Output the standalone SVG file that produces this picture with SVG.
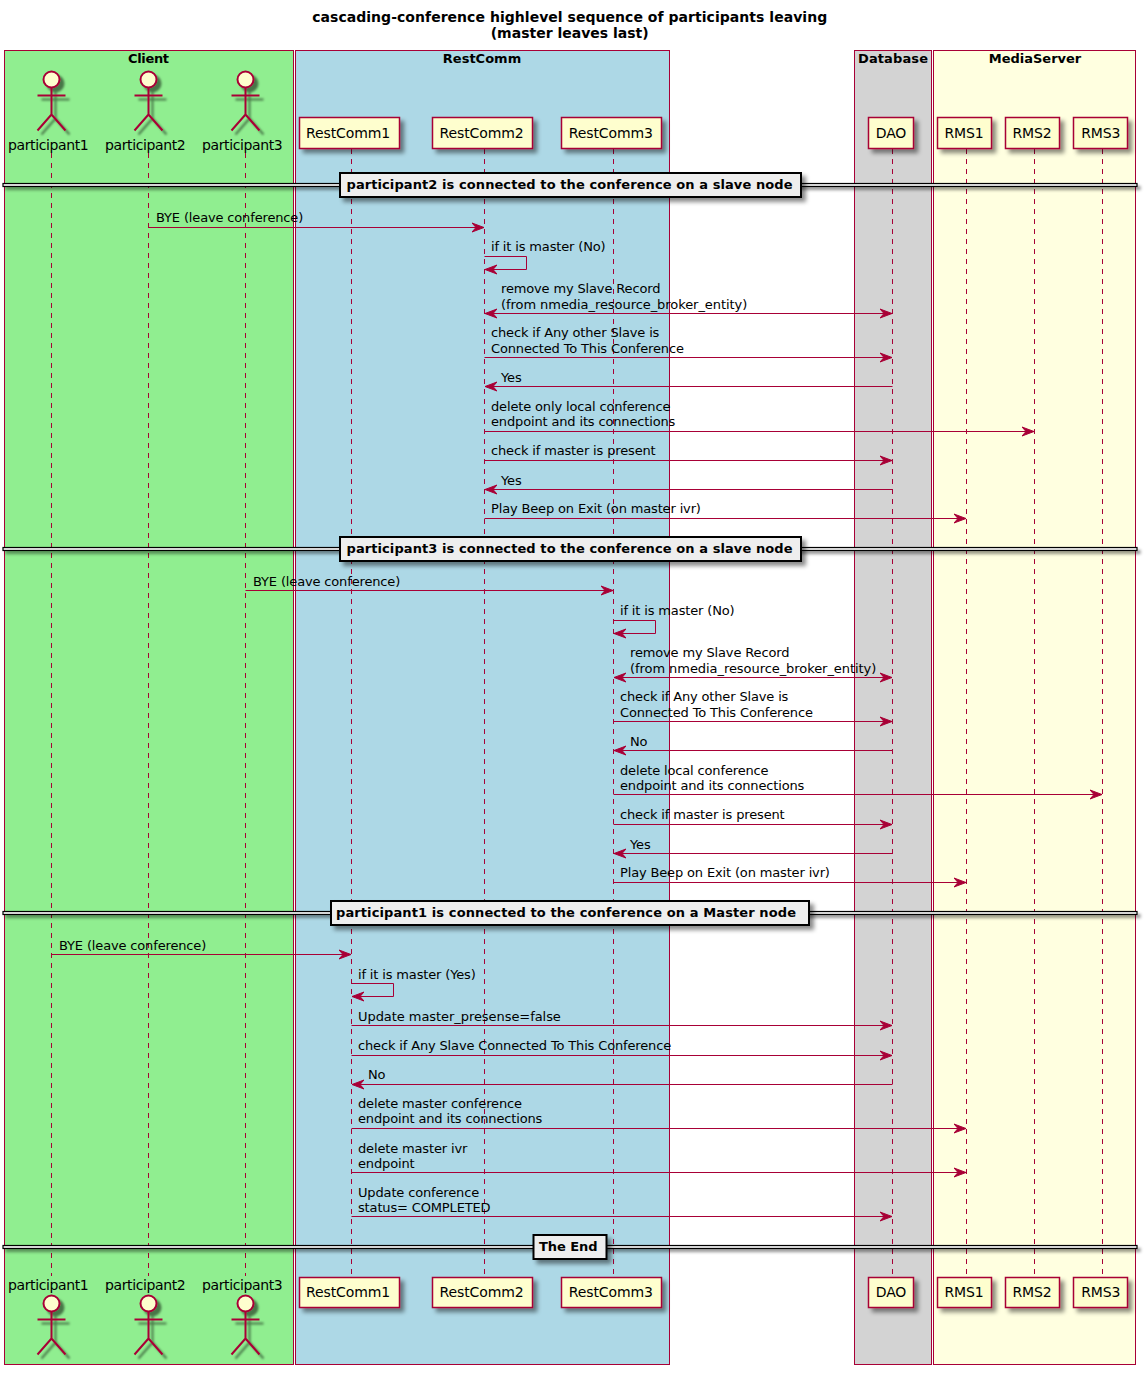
<svg xmlns="http://www.w3.org/2000/svg" width="1147" height="1375" viewBox="0 0 1147 1375">
<style>
text{font-family:"DejaVu Sans",sans-serif;font-size:13px;fill:#000;letter-spacing:-0.15px}
.t{font-weight:bold;letter-spacing:0}
.c{text-anchor:middle}
.h{font-size:14px}
.u{letter-spacing:-0.06px}
.p{font-size:14px;letter-spacing:-0.38px}
.pc{font-size:14px;text-anchor:middle;letter-spacing:-0.1px}
.sb{stroke:#A80036;stroke-width:1}
.part{fill:#FEFECE;stroke:#A80036;stroke-width:1.5;filter:url(#sh)}
.actor{fill:none;stroke:#A80036;stroke-width:2;filter:url(#sa)}
.actor circle{fill:#FEFECE}
.life{stroke:#A80036;stroke-width:1;stroke-dasharray:5,5;fill:none}
.m{stroke:#A80036;stroke-width:1;fill:none}
.sepl{stroke:#000;stroke-width:1.2;fill:#EEEEEE;filter:url(#sl)}
.sepb{fill:#EEEEEE;stroke:#000;stroke-width:2;filter:url(#sh)}
</style>
<defs>
<filter id="sh" x="-30%" y="-30%" width="170%" height="170%"><feDropShadow dx="4" dy="4" stdDeviation="2" flood-color="#000" flood-opacity="0.45"/></filter>
<filter id="sa" x="-30%" y="-30%" width="170%" height="170%"><feDropShadow dx="4" dy="4" stdDeviation="1.2" flood-color="#000" flood-opacity="0.5"/></filter>
<filter id="sl" filterUnits="userSpaceOnUse" x="0" y="0" width="1147" height="1375"><feDropShadow dx="3" dy="3" stdDeviation="1.5" flood-color="#000" flood-opacity="0.4"/></filter>
<marker id="ah" markerUnits="userSpaceOnUse" markerWidth="13" markerHeight="12" refX="12" refY="6" orient="auto-start-reverse"><path d="M12,6 L0,1.500 L4,6 L0,10.500 Z" fill="#A80036" stroke="#A80036"/></marker>
</defs>
<text class="t c h" x="569.700" y="22" textLength="515">cascading-conference highlevel sequence of participants leaving</text>
<text class="t c h" x="569.700" y="38">(master leaves last)</text>
<g id="box-client"><rect class="sb" x="4.500" y="50.500" width="289" height="1314" fill="#90EE90"/><text class="t c" x="148.500" y="63" textLength="41">Client</text></g>
<g id="box-restcomm"><rect class="sb" x="295.500" y="50.500" width="374" height="1314" fill="#ADD8E6"/><text class="t c" x="482" y="63">RestComm</text></g>
<g id="box-database"><rect class="sb" x="854.500" y="50.500" width="77" height="1314" fill="#D3D3D3"/><text class="t c" x="893" y="63" textLength="70">Database</text></g>
<g id="box-mediaserver"><rect class="sb" x="933.500" y="50.500" width="202" height="1314" fill="#FFFFE0"/><text class="t c" x="1035" y="63">MediaServer</text></g>
<g id="lifelines">
<path class="life" d="M51.500 153V1276M148.500 153V1276M245.500 153V1276M351.500 149V1277M484.500 149V1277M613.500 149V1277M892.500 149V1277M966.500 149V1277M1034.500 149V1277M1102.500 149V1277"/>
</g>
<g id="connectors">
<path class="m" marker-end="url(#ah)" d="M148.500 227.500H484"/>
<path class="m" marker-end="url(#ah)" d="M484.500 256.500H526.500V269.500H485"/>
<path class="m" marker-start="url(#ah)" marker-end="url(#ah)" d="M485 313.500H892"/>
<path class="m" marker-end="url(#ah)" d="M484.500 357.500H892"/>
<path class="m" marker-end="url(#ah)" d="M892.500 386.500H485"/>
<path class="m" marker-end="url(#ah)" d="M484.500 431.500H1034"/>
<path class="m" marker-end="url(#ah)" d="M484.500 460.500H892"/>
<path class="m" marker-end="url(#ah)" d="M892.500 489.500H485"/>
<path class="m" marker-end="url(#ah)" d="M484.500 518.500H966"/>
<path class="m" marker-end="url(#ah)" d="M245.500 590.500H613"/>
<path class="m" marker-end="url(#ah)" d="M613.500 620.500H655.500V633.500H614"/>
<path class="m" marker-start="url(#ah)" marker-end="url(#ah)" d="M614 677.500H892"/>
<path class="m" marker-end="url(#ah)" d="M613.500 721.500H892"/>
<path class="m" marker-end="url(#ah)" d="M892.500 750.500H614"/>
<path class="m" marker-end="url(#ah)" d="M613.500 794.500H1102"/>
<path class="m" marker-end="url(#ah)" d="M613.500 824.500H892"/>
<path class="m" marker-end="url(#ah)" d="M892.500 853.500H614"/>
<path class="m" marker-end="url(#ah)" d="M613.500 882.500H966"/>
<path class="m" marker-end="url(#ah)" d="M51.500 954.500H351"/>
<path class="m" marker-end="url(#ah)" d="M351.500 983.500H393.500V996.500H352"/>
<path class="m" marker-end="url(#ah)" d="M351.500 1025.500H892"/>
<path class="m" marker-end="url(#ah)" d="M351.500 1055.500H892"/>
<path class="m" marker-end="url(#ah)" d="M892.500 1084.500H352"/>
<path class="m" marker-end="url(#ah)" d="M351.500 1128.500H966"/>
<path class="m" marker-end="url(#ah)" d="M351.500 1172.500H966"/>
<path class="m" marker-end="url(#ah)" d="M351.500 1216.500H892"/>
</g>
<g id="labels">
<text x="156" y="222">BYE (leave conference)</text>
<text x="491" y="251">if it is master (No)</text>
<text x="501" y="293">remove my Slave Record</text><text class="u" x="501" y="309">(from nmedia_resource_broker_entity)</text>
<text x="491" y="337">check if Any other Slave is</text><text x="491" y="353">Connected To This Conference</text>
<text x="501" y="382">Yes</text>
<text x="491" y="411">delete only local conference</text><text x="491" y="426">endpoint and its connections</text>
<text x="491" y="455">check if master is present</text>
<text x="501" y="485">Yes</text>
<text x="491" y="513">Play Beep on Exit (on master ivr)</text>
<text x="253" y="586">BYE (leave conference)</text>
<text x="620" y="615">if it is master (No)</text>
<text x="630" y="657">remove my Slave Record</text><text class="u" x="630" y="673">(from nmedia_resource_broker_entity)</text>
<text x="620" y="701">check if Any other Slave is</text><text x="620" y="717">Connected To This Conference</text>
<text x="630" y="746">No</text>
<text x="620" y="775">delete local conference</text><text x="620" y="790">endpoint and its connections</text>
<text x="620" y="819">check if master is present</text>
<text x="630" y="849">Yes</text>
<text x="620" y="877">Play Beep on Exit (on master ivr)</text>
<text x="59" y="950">BYE (leave conference)</text>
<text x="358" y="979">if it is master (Yes)</text>
<text class="u" x="358" y="1021">Update master_presense=false</text>
<text x="358" y="1050">check if Any Slave Connected To This Conference</text>
<text x="368" y="1079">No</text>
<text x="358" y="1108">delete master conference</text><text x="358" y="1123">endpoint and its connections</text>
<text x="358" y="1153">delete master ivr</text><text x="358" y="1168">endpoint</text>
<text x="358" y="1197">Update conference</text><text x="358" y="1212">status= COMPLETED</text>
</g>
<g id="sep1"><rect class="sepl" x="3" y="183.500" width="1134" height="3"/><rect class="sepb" x="340" y="173" width="461" height="24"/><text class="t" x="346.500" y="189" textLength="446">participant2 is connected to the conference on a slave node</text></g>
<g id="sep2"><rect class="sepl" x="3" y="547.500" width="1134" height="3"/><rect class="sepb" x="340" y="537" width="461" height="24"/><text class="t" x="346.500" y="553" textLength="446">participant3 is connected to the conference on a slave node</text></g>
<g id="sep3"><rect class="sepl" x="3" y="911.500" width="1134" height="3"/><rect class="sepb" x="331" y="901" width="478" height="24"/><text class="t" x="336" y="917" textLength="460">participant1 is connected to the conference on a Master node</text></g>
<g id="sep4"><rect class="sepl" x="3" y="1245.500" width="1134" height="3"/><rect class="sepb" x="533.500" y="1235" width="73" height="24"/><text class="t" x="539" y="1251" textLength="58.500">The End</text></g>
<g id="p1-top"><g class="actor"><circle cx="51.500" cy="79.500" r="8"/><path d="M51.500 87.500V114.500M37.500 95.500H65.500M51.500 114.500L37.500 130.500M51.500 114.500L65.500 130.500"/></g><text class="p" x="8" y="150">participant1</text></g>
<g id="p2-top"><g class="actor"><circle cx="148.500" cy="79.500" r="8"/><path d="M148.500 87.500V114.500M134.500 95.500H162.500M148.500 114.500L134.500 130.500M148.500 114.500L162.500 130.500"/></g><text class="p" x="105" y="150">participant2</text></g>
<g id="p3-top"><g class="actor"><circle cx="245.500" cy="79.500" r="8"/><path d="M245.500 87.500V114.500M231.500 95.500H259.500M245.500 114.500L231.500 130.500M245.500 114.500L259.500 130.500"/></g><text class="p" x="202" y="150">participant3</text></g>
<g id="rc1-top"><rect class="part" x="299.500" y="117.500" width="100" height="31"/><text class="pc" x="348" y="138">RestComm1</text></g>
<g id="rc2-top"><rect class="part" x="432.500" y="117.500" width="100" height="31"/><text class="pc" x="481.500" y="138">RestComm2</text></g>
<g id="rc3-top"><rect class="part" x="561.500" y="117.500" width="100" height="31"/><text class="pc" x="610.800" y="138">RestComm3</text></g>
<g id="dao-top"><rect class="part" x="868.500" y="117.500" width="45" height="31"/><text class="pc" x="891" y="138">DAO</text></g>
<g id="rms1-top"><rect class="part" x="937.500" y="117.500" width="54" height="31"/><text class="pc" x="964" y="138">RMS1</text></g>
<g id="rms2-top"><rect class="part" x="1005.500" y="117.500" width="54" height="31"/><text class="pc" x="1032" y="138">RMS2</text></g>
<g id="rms3-top"><rect class="part" x="1073.500" y="117.500" width="54" height="31"/><text class="pc" x="1100.800" y="138">RMS3</text></g>
<g id="p1-bottom"><g class="actor"><circle cx="51.500" cy="1303.500" r="8"/><path d="M51.500 1311.500V1338.500M37.500 1319.500H65.500M51.500 1338.500L37.500 1354.500M51.500 1338.500L65.500 1354.500"/></g><text class="p" x="8" y="1290">participant1</text></g>
<g id="p2-bottom"><g class="actor"><circle cx="148.500" cy="1303.500" r="8"/><path d="M148.500 1311.500V1338.500M134.500 1319.500H162.500M148.500 1338.500L134.500 1354.500M148.500 1338.500L162.500 1354.500"/></g><text class="p" x="105" y="1290">participant2</text></g>
<g id="p3-bottom"><g class="actor"><circle cx="245.500" cy="1303.500" r="8"/><path d="M245.500 1311.500V1338.500M231.500 1319.500H259.500M245.500 1338.500L231.500 1354.500M245.500 1338.500L259.500 1354.500"/></g><text class="p" x="202" y="1290">participant3</text></g>
<g id="rc1-bottom"><rect class="part" x="299.500" y="1277.500" width="100" height="30"/><text class="pc" x="348" y="1297">RestComm1</text></g>
<g id="rc2-bottom"><rect class="part" x="432.500" y="1277.500" width="100" height="30"/><text class="pc" x="481.500" y="1297">RestComm2</text></g>
<g id="rc3-bottom"><rect class="part" x="561.500" y="1277.500" width="100" height="30"/><text class="pc" x="610.800" y="1297">RestComm3</text></g>
<g id="dao-bottom"><rect class="part" x="868.500" y="1277.500" width="45" height="30"/><text class="pc" x="891" y="1297">DAO</text></g>
<g id="rms1-bottom"><rect class="part" x="937.500" y="1277.500" width="54" height="30"/><text class="pc" x="964" y="1297">RMS1</text></g>
<g id="rms2-bottom"><rect class="part" x="1005.500" y="1277.500" width="54" height="30"/><text class="pc" x="1032" y="1297">RMS2</text></g>
<g id="rms3-bottom"><rect class="part" x="1073.500" y="1277.500" width="54" height="30"/><text class="pc" x="1100.800" y="1297">RMS3</text></g>
</svg>
